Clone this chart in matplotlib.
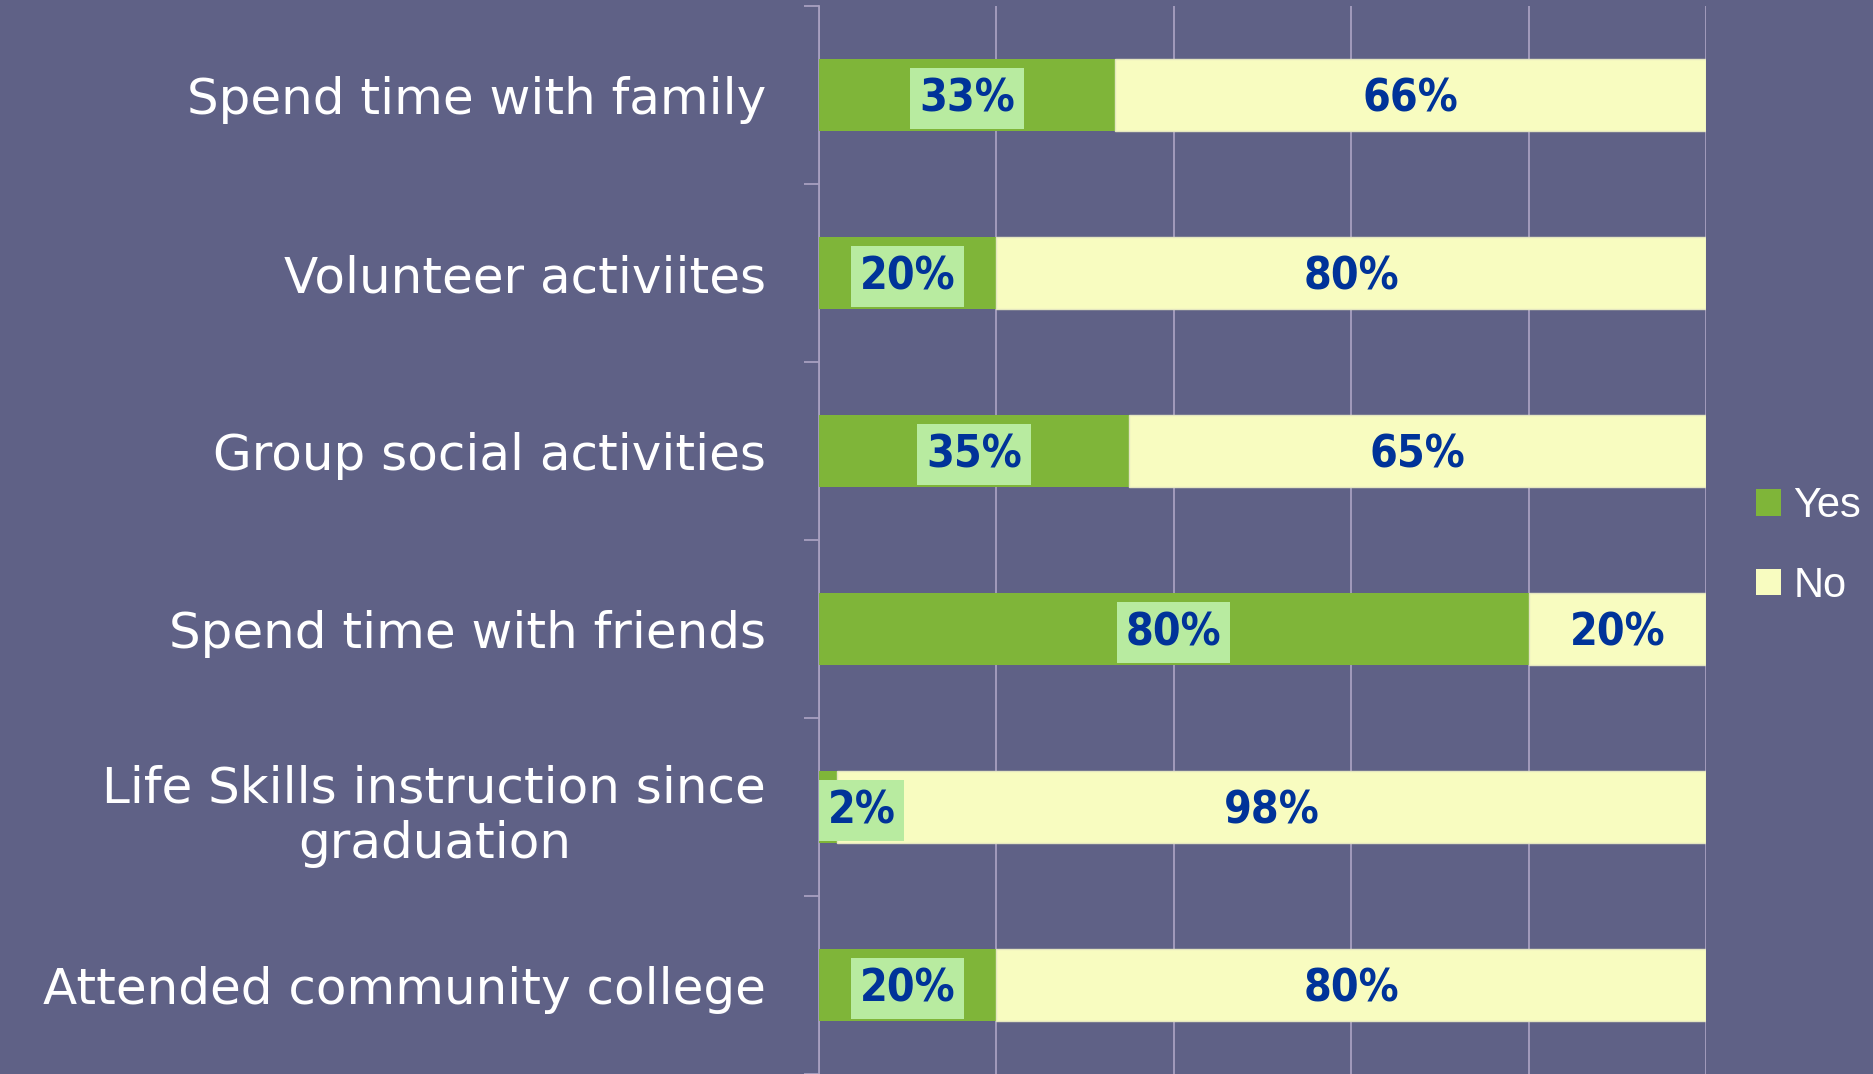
import matplotlib.pyplot as plt
from matplotlib.patches import Patch
import numpy as np

categories = ["Spend time with family", "Volunteer activiites", "Group social activities",
              "Spend time with friends", "Life Skills instruction since\ngraduation",
              "Attended community college"]
yes = [33, 20, 35, 80, 2, 20]
no = [66, 80, 65, 20, 98, 80]

bg = "#5f6186"
green = "#7fb539"
yellow = "#f8fcc0"
label_box = "#b8eba0"
text_blue = "#003399"
grid_col = "#a8a0c0"

# 100% stacked bars
tot = np.array(yes) + np.array(no)
yes_pct = np.array(yes) / tot * 100
no_pct = np.array(no) / tot * 100

fig = plt.figure(figsize=(18.74, 10.74), dpi=100, facecolor=bg)
ax = fig.add_axes([0.437, 0.0, 0.4733, 0.9944])
ax.set_facecolor(bg)

y = np.arange(len(categories))
ax.barh(y, yes_pct, height=0.4, color=green, zorder=3)
ax.barh(y, no_pct, left=yes_pct, height=0.4, color=yellow, edgecolor="#e4e6c0", linewidth=1, zorder=3)

# data labels
lab = dict(ha="center", va="center", color=text_blue, fontsize=32, fontweight="bold",
           fontstretch="condensed", zorder=5)
for i in range(len(categories)):
    xy = max(yes_pct[i] / 2, 4.8)
    ax.text(xy, y[i] + 0.02, f"{yes[i]}%",
            bbox=dict(boxstyle="square,pad=0.2", facecolor=label_box, edgecolor="none"), **lab)
    ax.text(yes_pct[i] + no_pct[i] / 2, y[i] + 0.02, f"{no[i]}%", **lab)

ax.set_xlim(0, 100)
ax.set_ylim(len(categories) - 0.5, -0.5)
ax.set_xticks([0, 20, 40, 60, 80, 100])
ax.set_xticklabels([])
ax.tick_params(axis="x", length=0)
ax.grid(axis="x", color=grid_col, linewidth=1.3, zorder=0)

ax.set_yticks(y)
ax.set_yticklabels(categories, color="white", fontsize=36, multialignment="center",
                   linespacing=1.2)
ax.set_yticks(np.arange(-0.5, len(categories), 1), minor=True)
ax.tick_params(axis="y", which="major", length=0, pad=38)
ax.tick_params(axis="y", which="minor", length=11, color=grid_col, width=1.3)

for s in ["top", "right", "bottom"]:
    ax.spines[s].set_visible(False)
ax.spines["left"].set_color(grid_col)
ax.spines["left"].set_linewidth(1.3)

handles = [Patch(facecolor=green), Patch(facecolor=yellow)]
fig.legend(handles, ["Yes", "No"], loc="center left", bbox_to_anchor=(0.937, 0.4915),
           frameon=False, labelcolor="white", handlelength=0.6,
           handleheight=0.6, handletextpad=0.3, labelspacing=0.95, borderpad=0,
           borderaxespad=0, prop={"family": "Liberation Sans", "size": 30})

fig.savefig("out.png", dpi=100, facecolor=bg)
